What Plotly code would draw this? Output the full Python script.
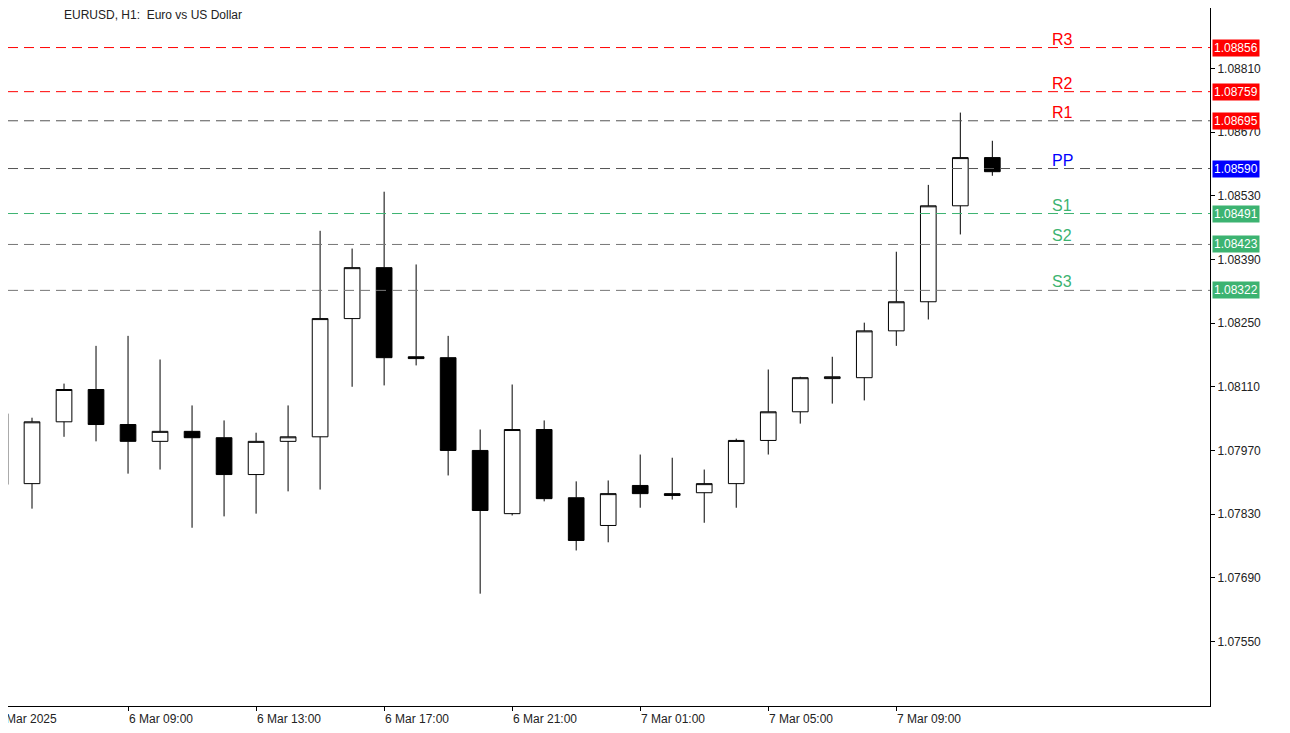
import pandas as pd
import plotly.graph_objects as go

# EURUSD H1 candles, 6 Mar 2025 05:00 -> 7 Mar 2025 12:00
times = pd.date_range("2025-03-06 05:00", periods=32, freq="h")
opens = [1.08051, 1.07897, 1.08033, 1.08104, 1.08027, 1.07990, 1.08012, 1.07998,
         1.07917, 1.07990, 1.08000, 1.08260, 1.08372, 1.08176, 1.08174, 1.07970,
         1.07831, 1.08016, 1.07866, 1.07805, 1.07893, 1.07875, 1.07877, 1.07897,
         1.07992, 1.08055, 1.08128, 1.08130, 1.08233, 1.08297, 1.08508, 1.08614]
highs = [1.08060, 1.08042, 1.08117, 1.08200, 1.08222, 1.08170, 1.08069, 1.08036,
         1.08009, 1.08069, 1.08453, 1.08414, 1.08539, 1.08379, 1.08222, 1.08016,
         1.08115, 1.08036, 1.07902, 1.07904, 1.07961, 1.07954, 1.07928, 1.07996,
         1.08148, 1.08132, 1.08176, 1.08251, 1.08407, 1.08554, 1.08713, 1.08651]
lows = [1.07884, 1.07842, 1.08000, 1.07990, 1.07919, 1.07928, 1.07800, 1.07825,
        1.07831, 1.07880, 1.07884, 1.08110, 1.08113, 1.08157, 1.07915, 1.07655,
        1.07827, 1.07858, 1.07750, 1.07768, 1.07844, 1.07862, 1.07811, 1.07844,
        1.07961, 1.08029, 1.08073, 1.08080, 1.08200, 1.08258, 1.08445, 1.08574]
closes = [1.07895, 1.08033, 1.08104, 1.08027, 1.07990, 1.08012, 1.07998, 1.07917,
          1.07990, 1.08000, 1.08260, 1.08372, 1.08174, 1.08172, 1.07970, 1.07838,
          1.08016, 1.07864, 1.07772, 1.07875, 1.07875, 1.07871, 1.07897, 1.07992,
          1.08055, 1.08130, 1.08132, 1.08233, 1.08297, 1.08508, 1.08614, 1.08583]

# pivot levels
level_names = ["R3", "R2", "R1", "PP", "S1", "S2", "S3"]
level_values = [1.08856, 1.08759, 1.08695, 1.08590, 1.08491, 1.08423, 1.08322]
line_colors = ["#ff0000", "#ff0000", "#555555", "#555555", "#3cb371", "#777777", "#777777"]
text_colors = ["#ff0000", "#ff0000", "#ff0000", "#0000ff", "#3cb371", "#3cb371", "#3cb371"]
box_colors = ["#ff0000", "#ff0000", "#ff0000", "#0000ff", "#3cb371", "#3cb371", "#3cb371"]

tick_vals = [1.07550, 1.07690, 1.07830, 1.07970, 1.08110, 1.08250, 1.08390,
             1.08530, 1.08670, 1.08810, 1.08950]
x_tick_times = pd.date_range("2025-03-06 09:00", periods=7, freq="4h")
x_tick_text = ["6 Mar 09:00", "6 Mar 13:00", "6 Mar 17:00", "6 Mar 21:00",
               "7 Mar 01:00", "7 Mar 05:00", "7 Mar 09:00"]

fig = go.Figure(go.Candlestick(
    x=times, open=opens, high=highs, low=lows, close=closes,
    increasing=dict(line=dict(color="black", width=1), fillcolor="white"),
    decreasing=dict(line=dict(color="black", width=1), fillcolor="black"),
    whiskerwidth=0, showlegend=False, hoverinfo="skip",
))

font = dict(family="Liberation Sans, Arial", size=12, color="#222222")
for name, val, lc, tc, bc in zip(level_names, level_values, line_colors, text_colors, box_colors):
    fig.add_shape(type="line", xref="paper", x0=0, x1=1, y0=val, y1=val,
                  line=dict(color=lc, width=1, dash="10px,6px"))
    fig.add_annotation(xref="paper", x=1042 / 1202, y=val, text=name, showarrow=False,
                       xanchor="left", yanchor="bottom", yshift=-2,
                       font=dict(family="Liberation Sans, Arial", size=16, color=tc))
    fig.add_annotation(xref="paper", x=1.002, y=val, text=f"{val:.5f}", showarrow=False,
                       xanchor="left", yanchor="middle", bgcolor=bc,
                       font=dict(family="Liberation Sans, Arial", size=12, color="white"),
                       borderpad=1)

for t, txt in zip(x_tick_times, x_tick_text):
    fig.add_annotation(x=t, yref="paper", y=0, text=txt, showarrow=False,
                       xanchor="left", yanchor="top", yshift=-4, xshift=-1, font=font)
fig.add_annotation(xref="paper", x=0, yref="paper", y=0, text="6 Mar 2025", showarrow=False,
                   xanchor="left", yanchor="top", yshift=-4, xshift=-14, font=font)

fig.add_annotation(xref="paper", yref="paper", x=54 / 1202, y=1, text="EURUSD, H1:  Euro vs US Dollar",
                   showarrow=False, xanchor="left", yanchor="top", yshift=2, font=font)

fig.update_layout(
    width=1282, height=725,
    margin=dict(l=0, r=80, t=0, b=27),
    paper_bgcolor="white", plot_bgcolor="white",
    font=font,
    xaxis=dict(range=[pd.Timestamp("2025-03-06 05:15"), pd.Timestamp("2025-03-07 18:48")],
               rangeslider=dict(visible=False), showgrid=False,
               tickvals=x_tick_times, ticktext=[""] * len(x_tick_times),
               ticks="outside", ticklen=4, tickcolor="black",
               showline=True, linecolor="black", mirror=False, zeroline=False),
    yaxis=dict(side="right", range=[1.07408, 1.08943], showgrid=False,
               tickvals=tick_vals, ticktext=[f"{v:.5f}" for v in tick_vals],
               ticks="outside", ticklen=4, tickcolor="black",
               showline=True, linecolor="black", zeroline=False),
)

fig.write_html("out.html")
